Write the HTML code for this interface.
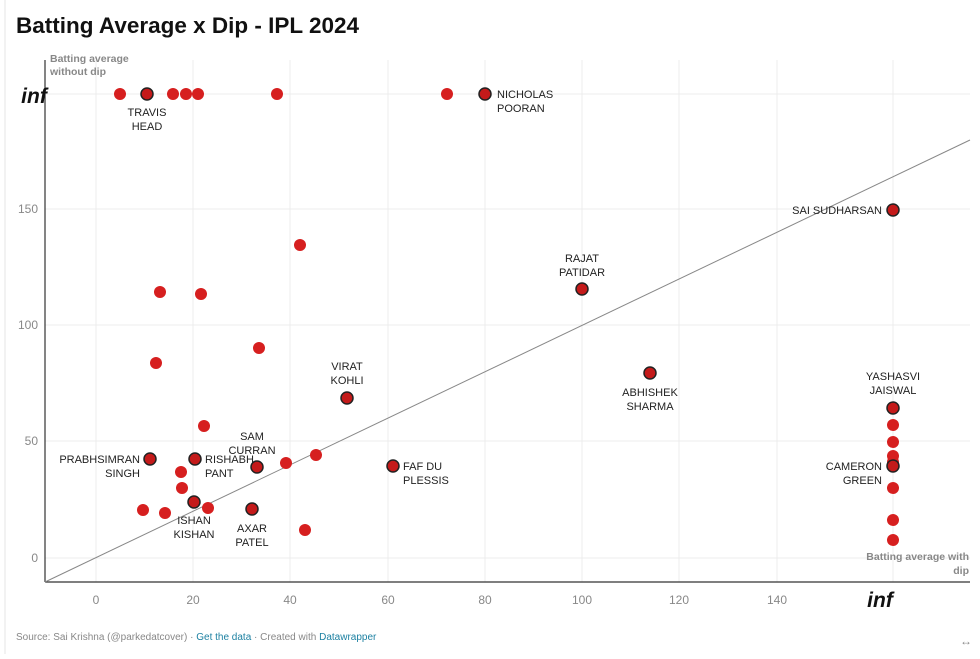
<!DOCTYPE html>
<html><head><meta charset="utf-8"><style>
body{margin:0;background:#fff;font-family:"Liberation Sans",sans-serif;}
</style></head><body>
<svg width="980" height="654" xmlns="http://www.w3.org/2000/svg" font-family="Liberation Sans, sans-serif">
<rect x="0" y="0" width="980" height="654" fill="#fff"/>
<line x1="5" y1="0" x2="5" y2="654" stroke="#e4e4e4"/>
<text x="16" y="33" font-size="22.5" font-weight="bold" fill="#111">Batting Average x Dip - IPL 2024</text>
<g stroke="#ececec" stroke-width="1">
<line x1="96" y1="60" x2="96" y2="582"/><line x1="193" y1="60" x2="193" y2="582"/><line x1="290" y1="60" x2="290" y2="582"/>
<line x1="388" y1="60" x2="388" y2="582"/><line x1="485" y1="60" x2="485" y2="582"/><line x1="582" y1="60" x2="582" y2="582"/>
<line x1="679" y1="60" x2="679" y2="582"/><line x1="777" y1="60" x2="777" y2="582"/><line x1="893" y1="60" x2="893" y2="582"/>
<line x1="45" y1="94" x2="970" y2="94"/><line x1="45" y1="209" x2="970" y2="209"/><line x1="45" y1="325" x2="970" y2="325"/>
<line x1="45" y1="441" x2="970" y2="441"/><line x1="45" y1="558" x2="970" y2="558"/>
</g>
<line x1="45" y1="60" x2="45" y2="582" stroke="#333" stroke-width="1.2"/>
<line x1="45" y1="582" x2="970" y2="582" stroke="#333" stroke-width="1.2"/>
<line x1="45" y1="582" x2="970" y2="140" stroke="#888" stroke-width="1"/>
<g font-size="12" fill="#888" text-anchor="middle">
<text x="96" y="604">0</text><text x="193" y="604">20</text><text x="290" y="604">40</text><text x="388" y="604">60</text>
<text x="485" y="604">80</text><text x="582" y="604">100</text><text x="679" y="604">120</text><text x="777" y="604">140</text>
</g>
<g font-size="12" fill="#888" text-anchor="end">
<text x="38" y="213">150</text><text x="38" y="329">100</text><text x="38" y="445">50</text><text x="38" y="562">0</text>
</g>
<text x="880" y="607" font-size="21" font-weight="bold" font-style="italic" fill="#111" text-anchor="middle">inf</text>
<text x="34" y="103" font-size="21" font-weight="bold" font-style="italic" fill="#111" text-anchor="middle">inf</text>
<text x="50" y="62" font-size="10.5" font-weight="bold" fill="#888">Batting average</text>
<text x="50" y="75" font-size="10.5" font-weight="bold" fill="#888">without dip</text>
<text x="969" y="560" font-size="10.5" font-weight="bold" fill="#888" text-anchor="end">Batting average with</text>
<text x="969" y="574" font-size="10.5" font-weight="bold" fill="#888" text-anchor="end">dip</text>
<g fill="#d61f1f">
<circle cx="120" cy="94" r="6"/><circle cx="173" cy="94" r="6"/><circle cx="186" cy="94" r="6"/><circle cx="198" cy="94" r="6"/><circle cx="277" cy="94" r="6"/><circle cx="447" cy="94" r="6"/>
<circle cx="300" cy="245" r="6"/><circle cx="160" cy="292" r="6"/><circle cx="201" cy="294" r="6"/><circle cx="259" cy="348" r="6"/><circle cx="156" cy="363" r="6"/>
<circle cx="204" cy="426" r="6"/><circle cx="181" cy="472" r="6"/><circle cx="286" cy="463" r="6"/><circle cx="316" cy="455" r="6"/><circle cx="182" cy="488" r="6"/>
<circle cx="143" cy="510" r="6"/><circle cx="165" cy="513" r="6"/><circle cx="208" cy="508" r="6"/><circle cx="305" cy="530" r="6"/>
<circle cx="893" cy="425" r="6"/><circle cx="893" cy="442" r="6"/><circle cx="893" cy="456" r="6"/><circle cx="893" cy="462" r="6"/><circle cx="893" cy="488" r="6"/><circle cx="893" cy="520" r="6"/><circle cx="893" cy="540" r="6"/>
</g>
<g fill="#c41a1a" stroke="#222" stroke-width="1.5">
<circle cx="147" cy="94" r="6"/><circle cx="485" cy="94" r="6"/><circle cx="893" cy="210" r="6"/><circle cx="582" cy="289" r="6"/><circle cx="347" cy="398" r="6"/>
<circle cx="650" cy="373" r="6"/><circle cx="150" cy="459" r="6"/><circle cx="195" cy="459" r="6"/><circle cx="257" cy="467" r="6"/><circle cx="393" cy="466" r="6"/>
<circle cx="194" cy="502" r="6"/><circle cx="252" cy="509" r="6"/><circle cx="893" cy="408" r="6"/><circle cx="893" cy="466" r="6"/>
</g>
<g font-size="11" fill="#222">
<text x="147" y="116" text-anchor="middle">TRAVIS</text><text x="147" y="130" text-anchor="middle">HEAD</text>
<text x="497" y="98">NICHOLAS</text><text x="497" y="112">POORAN</text>
<text x="882" y="214" text-anchor="end">SAI SUDHARSAN</text>
<text x="582" y="262" text-anchor="middle">RAJAT</text><text x="582" y="276" text-anchor="middle">PATIDAR</text>
<text x="347" y="370" text-anchor="middle">VIRAT</text><text x="347" y="384" text-anchor="middle">KOHLI</text>
<text x="650" y="396" text-anchor="middle">ABHISHEK</text><text x="650" y="410" text-anchor="middle">SHARMA</text>
<text x="140" y="463" text-anchor="end">PRABHSIMRAN</text><text x="140" y="477" text-anchor="end">SINGH</text>
<text x="205" y="463">RISHABH</text><text x="205" y="477">PANT</text>
<text x="252" y="440" text-anchor="middle">SAM</text><text x="252" y="454" text-anchor="middle">CURRAN</text>
<text x="403" y="470">FAF DU</text><text x="403" y="484">PLESSIS</text>
<text x="194" y="524" text-anchor="middle">ISHAN</text><text x="194" y="538" text-anchor="middle">KISHAN</text>
<text x="252" y="532" text-anchor="middle">AXAR</text><text x="252" y="546" text-anchor="middle">PATEL</text>
<text x="893" y="380" text-anchor="middle">YASHASVI</text><text x="893" y="394" text-anchor="middle">JAISWAL</text>
<text x="882" y="470" text-anchor="end">CAMERON</text><text x="882" y="484" text-anchor="end">GREEN</text>
</g>
<text x="16" y="640" font-size="10" fill="#888">Source: Sai Krishna (@parkedatcover) · <tspan fill="#1d81a2">Get the data</tspan> · Created with <tspan fill="#1d81a2">Datawrapper</tspan></text>
<text x="966" y="645" font-size="12" fill="#888" text-anchor="middle">↔</text>
</svg>
</body></html>
